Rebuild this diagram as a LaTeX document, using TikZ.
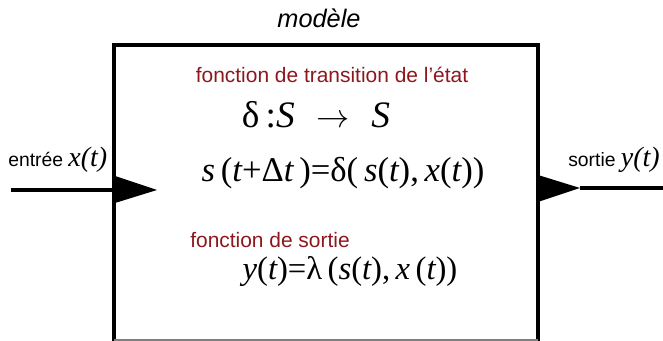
\documentclass[tikz,border=0pt]{standalone}
\usepackage{fontspec}
\setmainfont{Liberation Sans}
\newfontfamily\tms{Liberation Serif}
\definecolor{darkred}{RGB}{140,24,30}
\newcommand{\vi}[1]{{\itshape #1}}
\begin{document}
\begin{tikzpicture}[x=0.75pt,y=-0.75pt,
  frame/.style={line width=3pt,black},
  wire/.style={line width=3pt,black},
  tip/.style={fill=black,draw=none},
  redlabel/.style={text=darkred,font=\fontsize{15.7}{18}\selectfont,anchor=base,inner sep=0pt},
  formula/.style={font=\tms\fontsize{26}{30}\selectfont,anchor=base,inner sep=0pt},
  iolabel/.style={font=\fontsize{14.5}{17}\selectfont,anchor=base,inner sep=0pt}]
\useasboundingbox (0,0) rectangle (663,341);
% box
\coordinate (tl) at (114,45);
\coordinate (tr) at (538,45);
\coordinate (bl) at (114,340);
\coordinate (br) at (538,340);
\draw[frame,line cap=rect] (bl) -- (tl) -- (tr) -- (br);
\draw[gray,line width=0.8pt] (bl) -- (br);
% title
\node[anchor=base,inner sep=0pt,font=\itshape\fontsize{19}{22}\selectfont] (title) at (319,28) {modèle};
% texts
\node[redlabel] (trans) at (332,83) {fonction de transition de l'état};
\node[formula,font=\tms\fontsize{28}{32}\selectfont] (f1) at (316,128) {δ\,:\vi{S}\,\, $\rightarrow$\,\, \vi{S}};
\node[formula] (f2) at (343,182) {\vi{s}\,(\vi{t}+Δ\vi{t}\,)=δ(\,\vi{s}(\vi{t}),\,\vi{x}(\vi{t}))};
\node[redlabel] (sortief) at (270,248) {fonction de sortie};
\node[formula,font=\tms\fontsize{24.5}{28}\selectfont] (f3) at (350,280) {\vi{y}(\vi{t})=λ\,(\vi{s}(\vi{t}),\,\vi{x}\,(\vi{t}))};
% input
\coordinate (inA) at (11,190);
\coordinate (inB) at (114,190);
\draw[wire] (inA) -- (inB);
\fill[tip] (115,176) -- (157,190) -- (115,203) -- cycle;
\node[iolabel,anchor=base west] (inlabel) at (8,167) {entrée {\tms\itshape\fontsize{21}{24}\selectfont x(t)}};
% output
\coordinate (outA) at (580,188);
\coordinate (outB) at (663,188);
\fill[tip] (538,175) -- (580,188) -- (538,202) -- cycle;
\draw[wire] (outA) -- (outB);
\node[iolabel,anchor=base west] (outlabel) at (568,167) {sortie {\tms\itshape\fontsize{21}{24}\selectfont y(t)}};
\end{tikzpicture}
\end{document}
